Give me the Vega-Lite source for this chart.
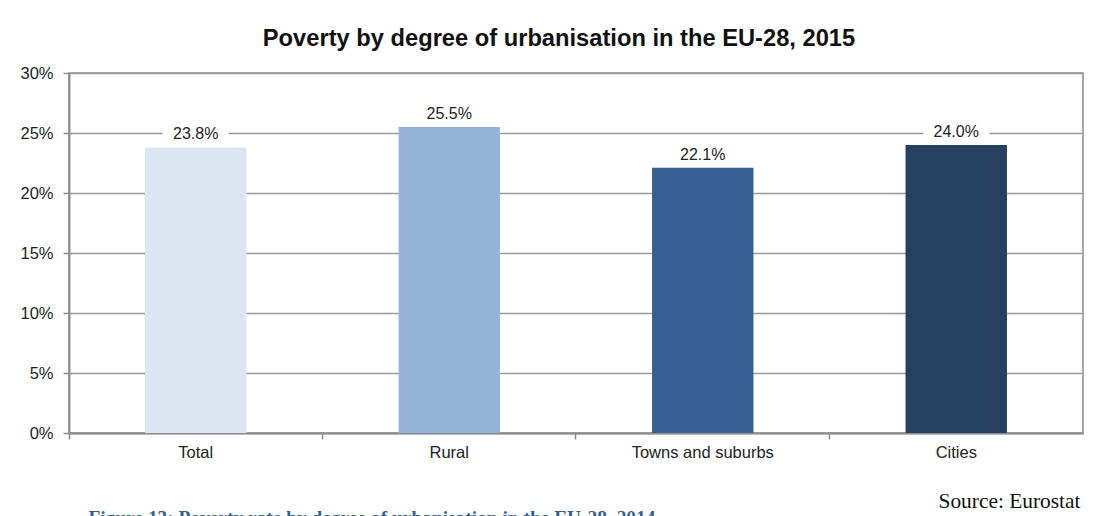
{
  "$schema": "https://vega.github.io/schema/vega-lite/v6.json",
  "width": 1014,
  "height": 360,
  "autosize": {"type": "none"},
  "padding": {"left": 69, "top": 73, "right": 19, "bottom": 83},
  "background": "white",
  "config": {
    "font": "Liberation Sans",
    "view": {"stroke": "#8c8c8c", "strokeWidth": 1.5},
    "axis": {"labelFont": "Liberation Sans", "labelFontSize": 16.5, "labelColor": "#222"}
  },
  "title": {
    "text": "Poverty by degree of urbanisation in the EU-28, 2015",
    "font": "Liberation Sans",
    "fontSize": 23.7,
    "fontWeight": "bold",
    "color": "#111",
    "anchor": "middle",
    "frame": "group",
    "dx": -17,
    "baseline": "alphabetic",
    "offset": -5
  },
  "data": {
    "values": [
      {"category": "Total", "rate": 23.8, "label": "23.8%"},
      {"category": "Rural", "rate": 25.5, "label": "25.5%"},
      {"category": "Towns and suburbs", "rate": 22.1, "label": "22.1%"},
      {"category": "Cities", "rate": 24.0, "label": "24.0%"}
    ]
  },
  "layer": [
    {
      "mark": {"type": "bar"},
      "encoding": {
        "x": {"field": "category", "type": "nominal", "sort": null,
              "scale": {"paddingInner": 0.6, "paddingOuter": 0.3},
              "axis": {
                "orient": "bottom",
                "ticks": false, "domain": true, "domainColor": "#8c8c8c", "domainWidth": 2,
                "labelAngle": 0, "labelPadding": 11, "grid": false,
                "title": "Source: Eurostat",
                "titleFont": "Liberation Serif", "titleFontSize": 21.4, "titleFontWeight": "normal",
                "titleColor": "#111", "titleAlign": "left", "titleAnchor": null,
                "titleX": 869, "titleY": 74, "titleBaseline": "alphabetic"
              }},
        "y": {"field": "rate", "type": "quantitative",
              "scale": {"domain": [0, 30], "nice": false},
              "axis": {
                "values": [0, 5, 10, 15, 20, 25, 30],
                "labelExpr": "datum.value + '%'",
                "title": null,
                "grid": true, "gridColor": "#9a9a9a", "gridWidth": 1.3,
                "domainColor": "#8c8c8c", "domainWidth": 2,
                "tickColor": "#8c8c8c", "tickSize": 6, "tickWidth": 1.5,
                "labelPadding": 10
              }},
        "color": {
          "field": "category", "type": "nominal", "legend": null,
          "scale": {
            "domain": ["Total", "Rural", "Towns and suburbs", "Cities"],
            "range": ["#dce6f2", "#95b3d7", "#376092", "#254061"]
          }
        }
      }
    },
    {
      "mark": {
        "type": "point",
        "shape": "M-1.65,-0.45H1.65V0.45H-1.65Z",
        "size": 1600,
        "filled": true,
        "color": "white",
        "opacity": 1,
        "yOffset": -13
      },
      "encoding": {
        "x": {"field": "category", "type": "nominal", "sort": null,
              "axis": {
                "orient": "bottom",
                "bandPosition": -0.75, "labels": false, "ticks": true, "tickSize": 6,
                "tickColor": "#8c8c8c", "tickWidth": 1.5, "domain": false, "grid": false,
                "title": "Figure 13: Poverty rate by degree of urbanisation in the EU-28, 2014",
                "titleFont": "Liberation Serif", "titleFontSize": 19.4, "titleFontWeight": "bold",
                "titleColor": "#365f91", "titleAlign": "left", "titleAnchor": null,
                "titleX": 19, "titleY": 90, "titleBaseline": "alphabetic"
              }},
        "y": {"field": "rate", "type": "quantitative"}
      }
    },
    {
      "mark": {"type": "text", "fontSize": 16, "color": "#222", "dy": -13, "baseline": "middle"},
      "encoding": {
        "x": {"field": "category", "type": "nominal", "sort": null, "axis": null},
        "y": {"field": "rate", "type": "quantitative"},
        "text": {"field": "label"}
      }
    }
  ],
  "resolve": {"axis": {"x": "independent"}}
}
